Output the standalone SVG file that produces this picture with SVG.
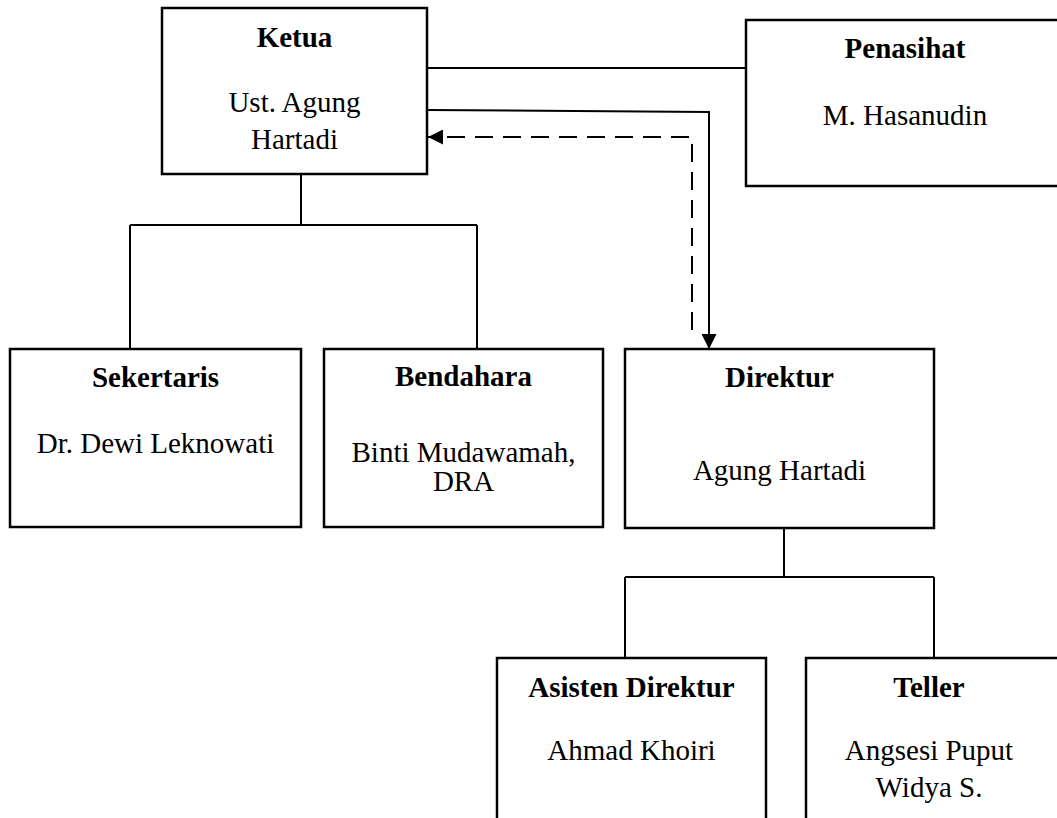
<svg xmlns="http://www.w3.org/2000/svg" width="1057" height="818" viewBox="0 0 1057 818">
<style>
.box{fill:#fff;stroke:#000;stroke-width:2.5}
.ln{fill:none;stroke:#000;stroke-width:2}
.dash{fill:none;stroke:#000;stroke-width:2;stroke-dasharray:18 10}
text{font-family:"Liberation Serif","Times New Roman",serif;font-size:29px;fill:#000;text-anchor:middle}
.b{font-weight:bold}
</style>
<defs>
<marker id="arr" viewBox="0 0 10 10" refX="10" refY="5" markerWidth="7.5" markerHeight="7.5" markerUnits="strokeWidth" orient="auto">
<path d="M0,0 L10,5 L0,10 Z" fill="#000"/>
</marker>
</defs>
<rect width="1057" height="818" fill="#fff"/>
<g id="connectors">
<line class="ln" x1="427" y1="68" x2="746" y2="68"/>
<path class="ln" d="M427,110 L709,112 L709,349" marker-end="url(#arr)"/>
<path class="dash" d="M692,330 L692,137 L428,137" marker-end="url(#arr)"/>
<path class="ln" d="M301,174 L301,225 M130,225 L477,225 M130,225 L130,349 M477,225 L477,349"/>
<path class="ln" d="M784,528 L784,577 M625,577 L934,577 M625,577 L625,658 M934,577 L934,658"/>
</g>
<g id="ketua">
<rect class="box" x="162" y="8" width="265" height="166"/>
<text class="b" x="294.5" y="47">Ketua</text>
<text x="294.5" y="112">Ust. Agung</text>
<text x="294.5" y="149">Hartadi</text>
</g>
<g id="penasihat">
<rect class="box" x="746" y="20" width="320" height="166"/>
<text class="b" x="905" y="58">Penasihat</text>
<text x="905" y="125">M. Hasanudin</text>
</g>
<g id="sekertaris">
<rect class="box" x="10" y="349" width="291" height="178"/>
<text class="b" x="155.5" y="387">Sekertaris</text>
<text x="155.5" y="453">Dr. Dewi Leknowati</text>
</g>
<g id="bendahara">
<rect class="box" x="324" y="349" width="279" height="178"/>
<text class="b" x="463.5" y="386">Bendahara</text>
<text x="463.5" y="462">Binti Mudawamah,</text>
<text x="463.5" y="491">DRA</text>
</g>
<g id="direktur">
<rect class="box" x="625" y="349" width="309" height="179"/>
<text class="b" x="779.5" y="387">Direktur</text>
<text x="779.5" y="480">Agung Hartadi</text>
</g>
<g id="asisten">
<rect class="box" x="497" y="658" width="269" height="180"/>
<text class="b" x="631.5" y="697">Asisten Direktur</text>
<text x="631.5" y="760">Ahmad Khoiri</text>
</g>
<g id="teller">
<rect class="box" x="806" y="658" width="260" height="180"/>
<text class="b" x="929" y="697">Teller</text>
<text x="929" y="760">Angsesi Puput</text>
<text x="929" y="797">Widya S.</text>
</g>
</svg>
